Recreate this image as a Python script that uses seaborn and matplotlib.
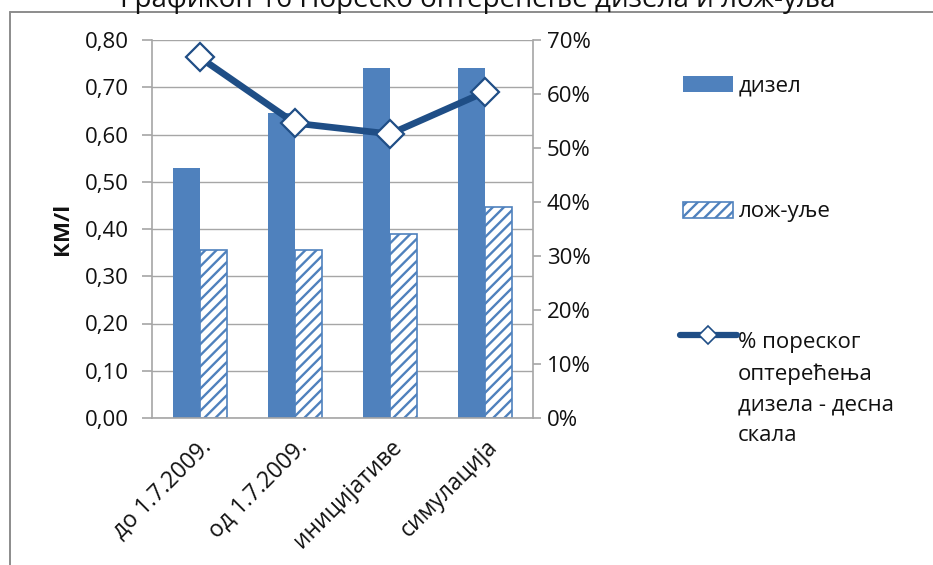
import matplotlib
matplotlib.use("Agg")
import matplotlib.pyplot as plt
from matplotlib.patches import Patch
from matplotlib.lines import Line2D
from matplotlib.ticker import FixedLocator, FuncFormatter
import seaborn as sns
import pandas as pd

# Data
categories = ["до 1.7.2009.", "од 1.7.2009.", "иницијативе", "симулација"]
diesel = [0.53, 0.645, 0.74, 0.74]
heating_oil = [0.355, 0.355, 0.39, 0.447]
tax_share = [66.8, 54.6, 52.6, 60.4]
series_names = ["дизел", "лож-уље"]
line_label = "% пореског\nоптерећења\nдизела - десна\nскала"
title = "Графикон 16 Пореско оптерећење дизела и лож-уља"
y_label = "КМ/l"

BLUE = "#4F81BD"
DARK = "#1F4E86"
GRID = "#A6A6A6"
TXT = "#111111"
FS = 16
HATCH = "///"

sns.set_theme(style="white")
plt.rcParams["font.family"] = ["Open Sans", "DejaVu Sans"]
plt.rcParams["hatch.color"] = BLUE
plt.rcParams["hatch.linewidth"] = 1.7

df = pd.DataFrame({
    "cat": categories * 2,
    "val": diesel + heating_oil,
    "series": [series_names[0]] * 4 + [series_names[1]] * 4,
})

fig = plt.figure(figsize=(9.33, 5.65), dpi=100)
W, H = 933, 565
ax = fig.add_axes([152 / W, 1 - 418 / H, (533 - 152) / W, (418 - 40) / H])

sns.barplot(data=df, x="cat", y="val", hue="series", order=categories,
            hue_order=series_names, palette=[BLUE, "white"], width=0.567,
            gap=0, saturation=1, ax=ax, legend=False, errorbar=None)

for bar in ax.containers[0]:
    bar.set_edgecolor(BLUE)
    bar.set_linewidth(0)
for bar in ax.containers[1]:
    bar.set_facecolor("white")
    bar.set_edgecolor(BLUE)
    bar.set_hatch(HATCH)
    bar.set_linewidth(1.2)

ax.set_ylim(0, 0.8)
ax.set_xlim(-0.5, 3.5)
ax.yaxis.set_major_locator(FixedLocator([i / 10 for i in range(9)]))
ax.yaxis.set_major_formatter(FuncFormatter(lambda v, p: f"{v:.2f}".replace(".", ",")))
ax.grid(axis="y", color=GRID, linewidth=1.0)
ax.set_axisbelow(True)
ax.set_xlabel("")
ax.set_ylabel(y_label, fontsize=16, fontweight="bold", labelpad=8, color=TXT)

ax.set_xticks(range(len(categories)))
ax.set_xticklabels(categories, rotation=45, ha="right", rotation_mode="anchor",
                   fontsize=16.5, color=TXT)
ax.tick_params(axis="x", which="major", length=0, pad=12)
ax.set_xticks([i - 0.5 for i in range(len(categories) + 1)], minor=True)
ax.tick_params(axis="x", which="minor", length=7, color=GRID, width=1.2, direction="out")
ax.tick_params(axis="y", length=7, color=GRID, width=1.2, direction="out",
               labelsize=FS, pad=10, left=True, labelcolor=TXT)

for side in ["left", "bottom", "right"]:
    ax.spines[side].set_visible(True)
    ax.spines[side].set_color(GRID)
    ax.spines[side].set_linewidth(1.2)
ax.spines["top"].set_visible(False)

# Right-hand scale for the tax share line
ax2 = ax.twinx()
sns.pointplot(x=categories, y=tax_share, order=categories, color=DARK,
              markers="D", linewidth=4.8, markersize=14, ax=ax2, errorbar=None)
for ln in ax2.lines:
    ln.set_markerfacecolor("white")
    ln.set_markeredgecolor(DARK)
    ln.set_markeredgewidth(1.6)
    ln.set_zorder(5)
ax2.set_ylim(0, 70)
ax2.set_xlim(-0.5, 3.5)
ax2.yaxis.set_major_locator(FixedLocator(range(0, 71, 10)))
ax2.yaxis.set_major_formatter(FuncFormatter(lambda v, p: f"{int(v)}%"))
ax2.tick_params(axis="y", length=6, color=GRID, width=1.2, direction="out",
                labelsize=FS, pad=4, right=True, labelcolor=TXT)
ax2.set_ylabel("")
for side in ["left", "bottom", "right", "top"]:
    ax2.spines[side].set_visible(False)
ax2.grid(False)

# Legend entries on the right, one per row
leg_kw = dict(loc="center left", frameon=False, fontsize=FS, borderaxespad=0,
              borderpad=0)
h_diesel = Patch(facecolor=BLUE, edgecolor=BLUE, linewidth=0)
h_oil = Patch(facecolor="white", edgecolor=BLUE, hatch=HATCH, linewidth=1.2)
h_line = Line2D([0], [0], color=DARK, linewidth=4.5, marker="D", markersize=9,
                markerfacecolor="white", markeredgecolor=DARK, markeredgewidth=1.2)

leg1 = fig.legend([h_diesel], [series_names[0]], bbox_to_anchor=(683 / W, 1 - 86 / H),
                  handlelength=2.25, handleheight=0.7, handletextpad=0.25, **leg_kw)
leg2 = fig.legend([h_oil], [series_names[1]], bbox_to_anchor=(683 / W, 1 - 212 / H),
                  handlelength=2.25, handleheight=0.7, handletextpad=0.25, **leg_kw)
leg3 = fig.legend([h_line], [""], bbox_to_anchor=(680 / W, 1 - 337 / H),
                  handlelength=2.55, handletextpad=0, **leg_kw)
for lg in (leg1, leg2, leg3):
    for t in lg.get_texts():
        t.set_color(TXT)
# multi-line label: the baseline given is that of its last line
fig.text(738 / W, 1 - 441 / H, line_label, ha="left", va="baseline",
         fontsize=FS, color=TXT, linespacing=1.6)

# Title along the top edge
fig.text(478 / W, 1 - 7 / H, title, ha="center", va="baseline",
         fontsize=20, color=TXT)

# Outer chart frame
fig.add_artist(Line2D([10 / W, 1.0], [1 - 12 / H, 1 - 12 / H],
                      transform=fig.transFigure, color="#8C8C8C", linewidth=1.4))
fig.add_artist(Line2D([10 / W, 10 / W], [0, 1 - 12 / H],
                      transform=fig.transFigure, color="#8C8C8C", linewidth=1.4))

fig.savefig("out.png", dpi=100, facecolor="white")
